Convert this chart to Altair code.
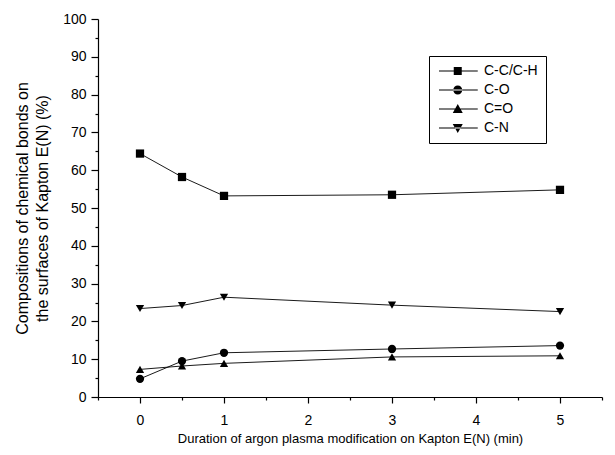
import altair as alt
import pandas as pd

times = [0, 0.5, 1, 3, 5]
series_names = ["C-C/C-H", "C-O", "C=O", "C-N"]
cc_ch = [64.4, 58.2, 53.2, 53.5, 54.8]
c_o_single = [4.8, 9.5, 11.7, 12.7, 13.6]
c_o_double = [7.3, 8.2, 8.9, 10.6, 10.9]
c_n = [23.4, 24.2, 26.4, 24.3, 22.6]

rows = []
for name, vals in zip(series_names, [cc_ch, c_o_single, c_o_double, c_n]):
    for t, v in zip(times, vals):
        rows.append({"t": t, "v": v, "series": name})
df = pd.DataFrame(rows)

FONT = "Liberation Sans"

x_enc = alt.X("t:Q", scale=alt.Scale(domain=[-0.5, 5.5], nice=False, zero=False),
              axis=alt.Axis(title="Duration of argon plasma modification on Kapton E(N) (min)",
                            values=[-0.5, 0, 0.5, 1, 1.5, 2, 2.5, 3, 3.5, 4, 4.5, 5, 5.5],
                            labelExpr="datum.value % 1 === 0 ? '' + datum.value : ''",
                            tickSize={"expr": "datum.value % 1 === 0 ? 6 : 3"},
                            labelPadding=10, labelFontSize=14, labelOverlap=False,
                            grid=False, titlePadding=5, titleFontSize=13))
y_enc = alt.Y("v:Q", scale=alt.Scale(domain=[0, 100], nice=False),
              axis=alt.Axis(title=["Compositions of chemical bonds on", "the surfaces of Kapton E(N) (%)"],
                            values=list(range(0, 101, 5)),
                            labelExpr="datum.value % 10 === 0 ? datum.label : ''",
                            tickSize={"expr": "datum.value % 10 === 0 ? 7 : 3"},
                            labelPadding=5, labelFontSize=14, labelOverlap=False,
                            grid=False, titlePadding=12, titleFontSize=16,
                            titleLineHeight=20))

base = alt.Chart(df)

lines = base.mark_line(color="black", strokeWidth=0.9).encode(
    x=x_enc, y=y_enc, detail="series:N")

points = base.mark_point(filled=True, color="black", opacity=1).encode(
    x=x_enc, y=y_enc,
    shape=alt.Shape("series:N", sort=series_names, legend=None,
                    scale=alt.Scale(domain=series_names,
                                    range=["square", "circle", "triangle-up", "triangle-down"])),
    size=alt.value(68))

# legend symbols: a 1px line with the marker on it (unit = 5px)
legend_paths = [
    "M-1,-0.1H6.75V0.1H-1Z M1.95,-0.8H3.55V0.8H1.95Z",
    "M-1,-0.1H6.75V0.1H-1Z M1.85,0A0.9,0.9 0 1,0 3.65,0A0.9,0.9 0 1,0 1.85,0Z",
    "M-1,-0.1H6.75V0.1H-1Z M2.75,-1L3.75,0.8L1.75,0.8Z",
    "M-1,-0.1H6.75V0.1H-1Z M2.75,1L3.75,-0.8L1.75,-0.8Z",
]

ghost = base.mark_point(filled=True, color="black", opacity=0).encode(
    x=x_enc, y=y_enc,
    shape=alt.Shape("series:N", sort=series_names,
                    scale=alt.Scale(domain=series_names, range=legend_paths),
                    legend=alt.Legend(title=None, orient="none", legendX=331, legendY=37,
                                      symbolSize=100, symbolOpacity=1, symbolFillColor="black",
                                      symbolStrokeColor="black", symbolStrokeWidth=0,
                                      labelFont=FONT, labelFontSize=14, labelColor="black",
                                      labelOffset=33, strokeColor="black", fillColor="white",
                                      padding=8, rowPadding=5)))

chart = alt.layer(lines, points, ghost).resolve_scale(shape="independent").resolve_legend(
    shape="independent").properties(
    width=504, height=378,
    autosize=alt.AutoSizeParams(type="none"),
    padding={"left": 98, "top": 19, "right": 13, "bottom": 58},
).configure_view(stroke=None).configure_axis(
    domainColor="black", tickColor="black", labelColor="black", titleColor="black",
    labelFont=FONT, titleFont=FONT,
    titleFontWeight="normal", domainWidth=1.2, tickWidth=1.2)

chart.save("out.html", embed_options={"renderer": "svg", "actions": False})
